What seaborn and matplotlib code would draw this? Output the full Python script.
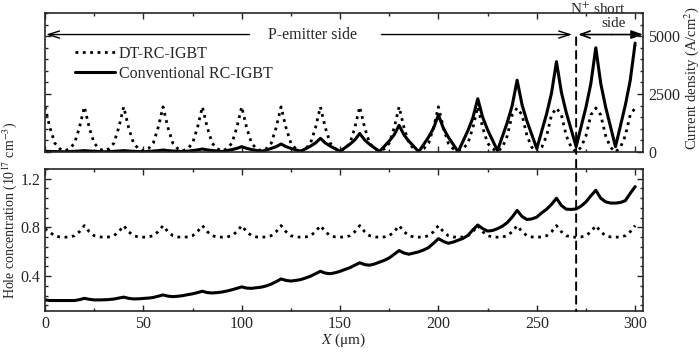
import numpy as np
import seaborn as sns
import matplotlib
matplotlib.use('Agg')
import matplotlib.pyplot as plt
from matplotlib import ticker
from matplotlib.patches import ConnectionPatch

# position along the device (um), sampled every 2.5 um
x_um = np.arange(0, 300.1, 2.5)

# current density (A/cm2), one row per 20 um cell
dt_current = [
    1950, 1050, 380, 140, 50, 140, 380, 1050,
    1950, 1050, 380, 140, 50, 140, 380, 1050,
    1950, 1050, 380, 140, 50, 140, 380, 1050,
    1950, 1050, 380, 140, 50, 140, 380, 1050,
    1950, 1050, 380, 140, 50, 140, 380, 1050,
    1950, 1050, 380, 140, 50, 140, 380, 1050,
    1950, 1050, 380, 140, 50, 140, 380, 1050,
    1950, 1050, 380, 140, 50, 140, 380, 1050,
    1950, 1050, 380, 140, 50, 140, 380, 1050,
    1950, 1050, 380, 140, 50, 140, 380, 1050,
    1950, 1050, 380, 140, 50, 140, 380, 1050,
    1950, 1050, 380, 140, 20, 200, 700, 1600,
    1900, 1600, 700, 200, 0, 200, 700, 1600,
    1900, 1600, 700, 200, 0, 200, 700, 1600,
    1900, 1600, 700, 200, 0, 200, 700, 1600,
    1900]

conv_current = [
    30, 23, 18, 14, 10, 20, 30, 42,
    60, 42, 30, 20, 10, 20, 30, 42,
    60, 42, 30, 20, 10, 25, 40, 58,
    85, 60, 43, 29, 15, 38, 61, 89,
    130, 90, 64, 42, 20, 62, 104, 154,
    230, 156, 107, 66, 25, 89, 153, 230,
    345, 232, 156, 93, 30, 142, 254, 388,
    590, 388, 254, 142, 30, 184, 338, 523,
    800, 519, 332, 176, 20, 246, 472, 743,
    1150, 740, 466, 238, 10, 328, 646, 1028,
    1600, 1028, 646, 328, 10, 468, 926, 1476,
    2300, 1494, 956, 508, 60, 668, 1276, 2006,
    3100, 2038, 1330, 740, 150, 900, 1650, 2550,
    3900, 2579, 1698, 964, 230, 1084, 1938, 2963,
    4500, 2963, 1938, 1084, 230, 1124, 2018, 3091,
    4700]

# hole concentration (1e17 cm-3)
dt_holes = [
    0.79, 0.76, 0.73, 0.722, 0.72, 0.722, 0.732, 0.765,
    0.815, 0.765, 0.732, 0.722, 0.72, 0.722, 0.732, 0.765,
    0.815, 0.765, 0.732, 0.722, 0.72, 0.722, 0.732, 0.765,
    0.815, 0.765, 0.732, 0.722, 0.72, 0.722, 0.732, 0.765,
    0.815, 0.765, 0.732, 0.722, 0.72, 0.722, 0.732, 0.765,
    0.815, 0.765, 0.732, 0.722, 0.72, 0.722, 0.732, 0.765,
    0.815, 0.765, 0.732, 0.722, 0.72, 0.722, 0.732, 0.765,
    0.815, 0.765, 0.732, 0.722, 0.72, 0.722, 0.732, 0.765,
    0.815, 0.765, 0.732, 0.722, 0.72, 0.722, 0.732, 0.765,
    0.815, 0.765, 0.732, 0.722, 0.72, 0.722, 0.732, 0.765,
    0.815, 0.765, 0.732, 0.722, 0.72, 0.722, 0.732, 0.765,
    0.815, 0.765, 0.732, 0.722, 0.72, 0.722, 0.732, 0.765,
    0.815, 0.765, 0.732, 0.722, 0.72, 0.722, 0.732, 0.765,
    0.815, 0.765, 0.732, 0.722, 0.72, 0.722, 0.732, 0.765,
    0.815, 0.765, 0.732, 0.722, 0.72, 0.722, 0.732, 0.765,
    0.815]

conv_holes = [
    0.205, 0.2, 0.2, 0.2, 0.2, 0.2, 0.2, 0.207,
    0.218, 0.21, 0.205, 0.205, 0.206, 0.208, 0.212, 0.22,
    0.228, 0.218, 0.213, 0.214, 0.217, 0.22, 0.225, 0.235,
    0.246, 0.236, 0.232, 0.235, 0.24, 0.248, 0.255, 0.265,
    0.276, 0.265, 0.262, 0.265, 0.27, 0.278, 0.288, 0.3,
    0.312, 0.302, 0.3, 0.305, 0.31, 0.32, 0.335, 0.355,
    0.377, 0.365, 0.36, 0.365, 0.372, 0.385, 0.4, 0.42,
    0.44, 0.425, 0.42, 0.428, 0.44, 0.455, 0.47, 0.49,
    0.51, 0.495, 0.49, 0.5, 0.515, 0.53, 0.55, 0.58,
    0.61, 0.59, 0.58, 0.59, 0.6, 0.615, 0.635, 0.67,
    0.708, 0.685, 0.67, 0.68, 0.695, 0.71, 0.735, 0.78,
    0.82, 0.79, 0.77, 0.775, 0.79, 0.81, 0.84, 0.885,
    0.94, 0.89, 0.865, 0.87, 0.885, 0.92, 0.95, 0.99,
    1.04, 0.98, 0.95, 0.948, 0.952, 0.975, 1.01, 1.06,
    1.105, 1.04, 1.01, 1.0, 1.0, 1.005, 1.02, 1.08,
    1.135]

series_labels = ['DT-RC-IGBT', 'Conventional RC-IGBT']
n_boundary = 270

sns.set_style('ticks')
plt.rcParams['font.family'] = ['Liberation Serif', 'DejaVu Serif']
plt.rcParams['mathtext.fontset'] = 'stix'
plt.rcParams['font.size'] = 11.5

fig = plt.figure(figsize=(7.0, 3.53), dpi=100)
ax_top = fig.add_axes([0.0643, 0.5694, 0.8543, 0.3938])
ax_bot = fig.add_axes([0.0643, 0.119, 0.8543, 0.4023])

sns.lineplot(x=x_um, y=dt_current, ax=ax_top, color='black', lw=2.0,
             linestyle=':', label=series_labels[0])
sns.lineplot(x=x_um, y=conv_current, ax=ax_top, color='black', lw=2.2,
             label=series_labels[1])
sns.lineplot(x=x_um, y=dt_holes, ax=ax_bot, color='black', lw=2.0,
             linestyle=':')
sns.lineplot(x=x_um, y=conv_holes, ax=ax_bot, color='black', lw=2.2)

for ax in (ax_top, ax_bot):
    ax.set_xlim(0, 304)
    ax.xaxis.set_major_locator(ticker.MultipleLocator(50))
    ax.xaxis.set_minor_locator(ticker.MultipleLocator(25))
    ax.yaxis.set_minor_locator(ticker.AutoMinorLocator(5))
    ax.tick_params(which='both', direction='in', top=True, right=True,
                   width=1.0, labelsize=11.5)
    ax.tick_params(which='major', length=4)
    ax.tick_params(which='minor', length=2.5)
    for sp in ax.spines.values():
        sp.set_linewidth(1.2)

# top panel: current density on the right axis
ax_top.set_ylim(0, 6000)
ax_top.yaxis.set_major_locator(ticker.MultipleLocator(2500))
ax_top.tick_params(labelbottom=False, labelleft=False, labelright=True)
ax_top.set_xlabel('')
ax_top.yaxis.set_label_position('right')
ax_top.set_ylabel('Current density (A/cm$^2$)', fontsize=10.5)
ax_top.yaxis.set_label_coords(1.066, 0.53)

ax_top.legend(loc='upper left', bbox_to_anchor=(0.05, 0.765), frameon=False,
              borderpad=0, borderaxespad=0, handlelength=2.5,
              handletextpad=0.25, labelspacing=0.25, fontsize=11.5)

arrow_y = 5070
ax_top.annotate('', xy=(0.5, arrow_y), xytext=(104, arrow_y),
                arrowprops=dict(arrowstyle='->,head_length=0.7,head_width=0.22',
                                lw=1.0, color='black', shrinkA=0, shrinkB=0))
ax_top.text(136, arrow_y, 'P-emitter side', ha='center', va='center',
            fontsize=11.5)
ax_top.annotate('', xy=(268, arrow_y), xytext=(171, arrow_y),
                arrowprops=dict(arrowstyle='->,head_length=0.7,head_width=0.22',
                                lw=1.0, color='black', shrinkA=0, shrinkB=0))
ax_top.annotate('', xy=(271, arrow_y), xytext=(288, arrow_y),
                arrowprops=dict(arrowstyle='->,head_length=0.6,head_width=0.22',
                                lw=1.2, color='black', shrinkA=0, shrinkB=0))
ax_top.annotate('', xy=(304, arrow_y), xytext=(288, arrow_y),
                arrowprops=dict(arrowstyle='-|>,head_length=0.6,head_width=0.22',
                                lw=1.2, color='black', shrinkA=0, shrinkB=0))
ax_top.text(295, 6170, 'N$^{+}$ short', ha='right', va='center',
            fontsize=11, clip_on=False)
ax_top.text(295, 5560, 'side', ha='right', va='center', fontsize=11,
            clip_on=False)

# bottom panel: hole concentration
ax_bot.set_ylim(0.114, 1.28)
ax_bot.yaxis.set_major_locator(ticker.MultipleLocator(0.4))
ax_bot.yaxis.set_major_formatter(ticker.FormatStrFormatter('%.1f'))
ax_bot.set_xlabel('$X$ (μm)', fontsize=11, labelpad=0)
ax_bot.set_ylabel('Hole concentration (10$^{17}$ cm$^{-3}$)', fontsize=10)
ax_bot.yaxis.set_label_coords(-0.043, 0.711)

con = ConnectionPatch(xyA=(n_boundary, 4950), coordsA=ax_top.transData,
                      xyB=(n_boundary, 0.114), coordsB=ax_bot.transData,
                      linestyle=(0, (4, 3)), lw=1.4, color='black')
fig.add_artist(con)

plt.savefig('out.png', dpi=100)
plt.close()
